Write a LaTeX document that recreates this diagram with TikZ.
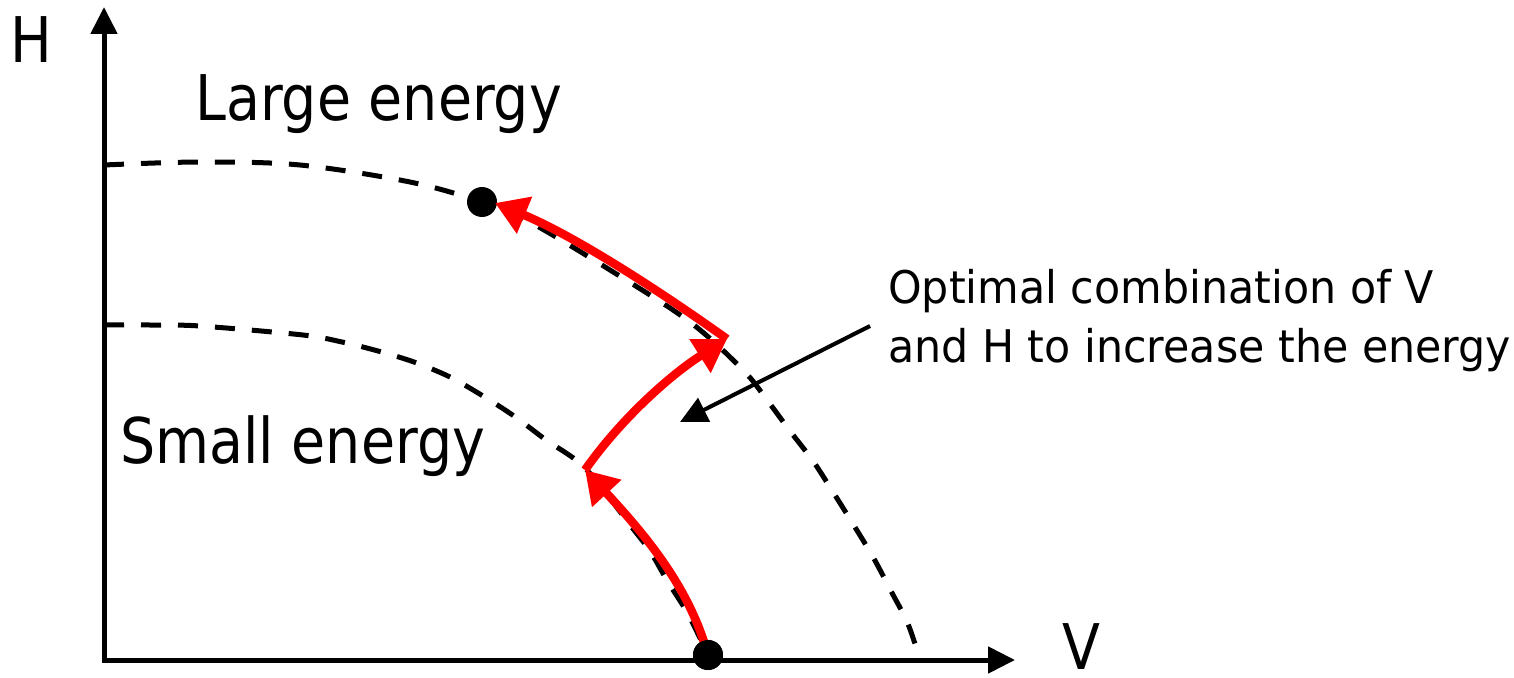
\documentclass[tikz,border=0pt]{standalone}
\usepackage{fontspec}
\setmainfont[FakeStretch=0.88]{DejaVu Sans}
\newfontfamily\notefont[FakeStretch=0.95]{DejaVu Sans}
\usetikzlibrary{arrows.meta}
\begin{document}
\begin{tikzpicture}[x=1pt,y=-1pt,
  axis/.style={line width=5pt,{Triangle[length=27pt,width=26pt]}-{Triangle[length=27pt,width=26pt]}},
  levelcurve/.style={line width=5pt,dash pattern=on 20pt off 17pt},
  redarrow/.style={line width=8.5pt,red,-{Triangle[length=32pt,width=38pt]}},
  notearrow/.style={line width=4pt,-{Triangle[length=27pt,width=26pt]}},
  dotnode/.style={circle,fill=black,minimum size=30pt,inner sep=0pt},
  biglbl/.style={inner sep=0pt,anchor=base west,font=\fontsize{63}{70}\selectfont},
  notelbl/.style={inner sep=0pt,anchor=base west,align=left,font=\notefont\fontsize{45}{59}\selectfont}]
\useasboundingbox (0,0) rectangle (1514,677);
% axes
\coordinate (O) at (104,660);
\coordinate (Htip) at (104,7);
\coordinate (Vtip) at (1015,660);
\draw[axis] (Htip) -- (O) -- (Vtip);
% level curves
\draw[levelcurve] plot[smooth,tension=0.55] coordinates {(104,165) (200,162) (300,165) (410,182) (482,202) (528,221) (610,270) (690,322) (743,370) (767,400) (790,431) (813,461) (833,492) (853,524) (873,557) (891,591) (908,624) (920,660)};
\draw[levelcurve] plot[smooth,tension=0.5] coordinates {(104,325) (150,325) (200,326) (303,335) (342,342) (378,351) (414,362) (450,377) (483,396) (514,416) (546,440) (585,468) (634,530) (650,551) (668,582) (688,614) (708,655)};
% points
\node[dotnode] (P0) at (708,655) {};
\node[dotnode] (P3) at (482,202) {};
\coordinate (P1) at (585,470);
\coordinate (P2) at (727,339);
\coordinate (P3e) at (495,203);
% red path
\draw[redarrow] (P0.center) .. controls (690,590) and (650,540) .. (P1);
\draw[redarrow] (P1) .. controls (620,420) and (670,375) .. (P2);
\draw[redarrow] (P2) .. controls (650,284) and (570,234) .. (P3e);
\node[dotnode] at (P0) {};
% labels
\node[biglbl] (H) at (10,63) {H};
\node[biglbl] (V) at (1062,669) {V};
\node[biglbl] (large) at (195,120) {Large energy};
\node[biglbl] (small) at (120,463) {Small energy};
\node[notelbl] (note) at (888,362) {Optimal combination of V\\and H to increase the energy};
\coordinate (noteStart) at (870,326);
\coordinate (noteEnd) at (680,422);
\draw[notearrow] (noteStart) -- (noteEnd);
\end{tikzpicture}
\end{document}
